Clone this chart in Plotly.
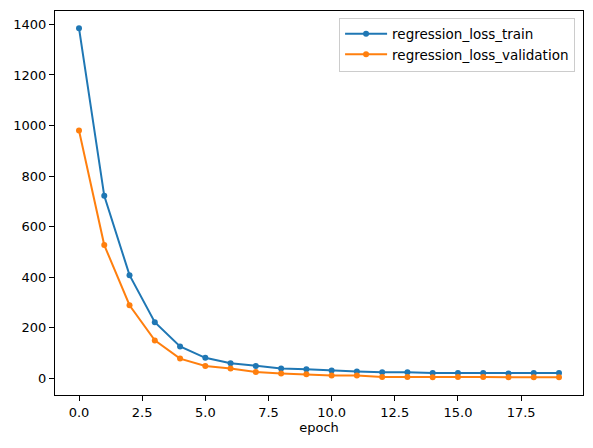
import plotly.graph_objs as go

# loss values per epoch
epochs = list(range(20))
loss_train = [1385, 722, 408, 222, 126, 81, 60, 49, 39, 36, 31, 27, 24, 24, 21, 21, 21, 19, 21, 21]
loss_val = [980, 527, 289, 150, 78, 49, 39, 25, 19, 16, 11, 11, 5, 5, 4, 5, 5, 4, 4, 4]

fig = go.Figure()

fig.add_trace(go.Scatter(x=epochs, y=loss_train, mode='lines+markers',
                         name='regression_loss_train',
                         line=dict(color='#1f77b4', width=2),
                         marker=dict(size=6, color='#1f77b4')))
fig.add_trace(go.Scatter(x=epochs, y=loss_val, mode='lines+markers',
                         name='regression_loss_validation',
                         line=dict(color='#ff7f0e', width=2),
                         marker=dict(size=6, color='#ff7f0e')))

axis_style = dict(showline=True, linecolor='black', linewidth=1, mirror=True,
                  ticks='outside', ticklen=5, tickcolor='black',
                  showgrid=False, zeroline=False, automargin=False)

# page has an 8px body margin, so the figure is a bit smaller than the window
fig.update_layout(
    width=577, height=432,
    margin=dict(l=47, r=2, t=3, b=45),
    plot_bgcolor='white', paper_bgcolor='white',
    font=dict(family='DejaVu Sans', size=13, color='black'),
    xaxis=dict(axis_style, range=[-0.95, 19.95], dtick=2.5, tick0=0,
               tickformat='.1f',
               title=dict(text='epoch', standoff=4, font=dict(size=13))),
    yaxis=dict(axis_style, range=[-66, 1453], dtick=200, tick0=0),
    legend=dict(x=0.985, y=0.983, xanchor='right', yanchor='top',
                bordercolor='#cccccc', borderwidth=1, bgcolor='white',
                itemwidth=42, font=dict(size=13.5)),
)

fig.write_html("out.html")
